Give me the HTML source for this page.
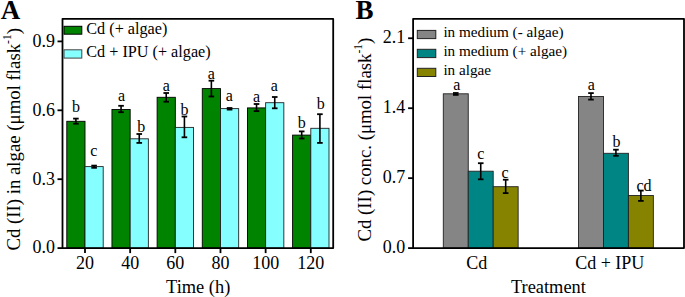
<!DOCTYPE html><html><head><meta charset="utf-8"><style>html,body{margin:0;padding:0;background:#fff;width:685px;height:297px;overflow:hidden}svg{display:block}text{font-family:"Liberation Serif",serif;fill:#000}</style></head><body>
<svg width="685" height="297" viewBox="0 0 685 297">
<rect x="66.80" y="121.30" width="18.20" height="126.80" fill="#008400" stroke="#000" stroke-width="0.9"/>
<rect x="85.00" y="166.60" width="18.20" height="81.50" fill="#85ffff" stroke="#222" stroke-width="0.9"/>
<rect x="111.96" y="109.50" width="18.20" height="138.60" fill="#008400" stroke="#000" stroke-width="0.9"/>
<rect x="130.16" y="138.80" width="18.20" height="109.30" fill="#85ffff" stroke="#222" stroke-width="0.9"/>
<rect x="157.12" y="97.30" width="18.20" height="150.80" fill="#008400" stroke="#000" stroke-width="0.9"/>
<rect x="175.32" y="127.40" width="18.20" height="120.70" fill="#85ffff" stroke="#222" stroke-width="0.9"/>
<rect x="202.28" y="88.60" width="18.20" height="159.50" fill="#008400" stroke="#000" stroke-width="0.9"/>
<rect x="220.48" y="108.60" width="18.20" height="139.50" fill="#85ffff" stroke="#222" stroke-width="0.9"/>
<rect x="247.44" y="107.90" width="18.20" height="140.20" fill="#008400" stroke="#000" stroke-width="0.9"/>
<rect x="265.64" y="102.70" width="18.20" height="145.40" fill="#85ffff" stroke="#222" stroke-width="0.9"/>
<rect x="292.60" y="135.10" width="18.20" height="113.00" fill="#008400" stroke="#000" stroke-width="0.9"/>
<rect x="310.80" y="128.30" width="18.20" height="119.80" fill="#85ffff" stroke="#222" stroke-width="0.9"/>
<line x1="75.90" y1="118.60" x2="75.90" y2="123.70" stroke="#000" stroke-width="1.6"/>
<line x1="73.10" y1="118.60" x2="78.70" y2="118.60" stroke="#000" stroke-width="1.8"/>
<line x1="73.10" y1="123.70" x2="78.70" y2="123.70" stroke="#000" stroke-width="1.8"/>
<line x1="94.10" y1="165.60" x2="94.10" y2="167.80" stroke="#000" stroke-width="1.6"/>
<line x1="91.30" y1="165.60" x2="96.90" y2="165.60" stroke="#000" stroke-width="1.8"/>
<line x1="91.30" y1="167.80" x2="96.90" y2="167.80" stroke="#000" stroke-width="1.8"/>
<text x="75.90" y="112.10" font-size="16" text-anchor="middle" >b</text>
<text x="93.70" y="155.50" font-size="16" text-anchor="middle" >c</text>
<line x1="121.06" y1="105.80" x2="121.06" y2="112.20" stroke="#000" stroke-width="1.6"/>
<line x1="118.26" y1="105.80" x2="123.86" y2="105.80" stroke="#000" stroke-width="1.8"/>
<line x1="118.26" y1="112.20" x2="123.86" y2="112.20" stroke="#000" stroke-width="1.8"/>
<line x1="139.26" y1="134.00" x2="139.26" y2="142.90" stroke="#000" stroke-width="1.6"/>
<line x1="136.46" y1="134.00" x2="142.06" y2="134.00" stroke="#000" stroke-width="1.8"/>
<line x1="136.46" y1="142.90" x2="142.06" y2="142.90" stroke="#000" stroke-width="1.8"/>
<text x="121.46" y="100.50" font-size="16" text-anchor="middle" >a</text>
<text x="141.16" y="131.90" font-size="16" text-anchor="middle" >b</text>
<line x1="166.22" y1="93.00" x2="166.22" y2="101.70" stroke="#000" stroke-width="1.6"/>
<line x1="163.42" y1="93.00" x2="169.02" y2="93.00" stroke="#000" stroke-width="1.8"/>
<line x1="163.42" y1="101.70" x2="169.02" y2="101.70" stroke="#000" stroke-width="1.8"/>
<line x1="184.42" y1="116.50" x2="184.42" y2="137.30" stroke="#000" stroke-width="1.6"/>
<line x1="181.62" y1="116.50" x2="187.22" y2="116.50" stroke="#000" stroke-width="1.8"/>
<line x1="181.62" y1="137.30" x2="187.22" y2="137.30" stroke="#000" stroke-width="1.8"/>
<text x="166.22" y="90.60" font-size="16" text-anchor="middle" >a</text>
<text x="184.42" y="115.20" font-size="16" text-anchor="middle" >b</text>
<line x1="211.38" y1="80.70" x2="211.38" y2="96.50" stroke="#000" stroke-width="1.6"/>
<line x1="208.58" y1="80.70" x2="214.18" y2="80.70" stroke="#000" stroke-width="1.8"/>
<line x1="208.58" y1="96.50" x2="214.18" y2="96.50" stroke="#000" stroke-width="1.8"/>
<line x1="229.58" y1="108.00" x2="229.58" y2="109.60" stroke="#000" stroke-width="1.6"/>
<line x1="226.78" y1="108.00" x2="232.38" y2="108.00" stroke="#000" stroke-width="1.8"/>
<line x1="226.78" y1="109.60" x2="232.38" y2="109.60" stroke="#000" stroke-width="1.8"/>
<text x="211.38" y="79.20" font-size="16" text-anchor="middle" >a</text>
<text x="229.18" y="100.70" font-size="16" text-anchor="middle" >a</text>
<line x1="256.54" y1="104.00" x2="256.54" y2="111.10" stroke="#000" stroke-width="1.6"/>
<line x1="253.74" y1="104.00" x2="259.34" y2="104.00" stroke="#000" stroke-width="1.8"/>
<line x1="253.74" y1="111.10" x2="259.34" y2="111.10" stroke="#000" stroke-width="1.8"/>
<line x1="274.74" y1="97.00" x2="274.74" y2="108.30" stroke="#000" stroke-width="1.6"/>
<line x1="271.94" y1="97.00" x2="277.54" y2="97.00" stroke="#000" stroke-width="1.8"/>
<line x1="271.94" y1="108.30" x2="277.54" y2="108.30" stroke="#000" stroke-width="1.8"/>
<text x="256.54" y="102.20" font-size="16" text-anchor="middle" >a</text>
<text x="274.34" y="90.60" font-size="16" text-anchor="middle" >a</text>
<line x1="301.70" y1="131.40" x2="301.70" y2="138.50" stroke="#000" stroke-width="1.6"/>
<line x1="298.90" y1="131.40" x2="304.50" y2="131.40" stroke="#000" stroke-width="1.8"/>
<line x1="298.90" y1="138.50" x2="304.50" y2="138.50" stroke="#000" stroke-width="1.8"/>
<line x1="319.90" y1="114.20" x2="319.90" y2="142.90" stroke="#000" stroke-width="1.6"/>
<line x1="317.10" y1="114.20" x2="322.70" y2="114.20" stroke="#000" stroke-width="1.8"/>
<line x1="317.10" y1="142.90" x2="322.70" y2="142.90" stroke="#000" stroke-width="1.8"/>
<text x="301.70" y="128.20" font-size="16" text-anchor="middle" >b</text>
<text x="320.70" y="108.70" font-size="16" text-anchor="middle" >b</text>
<rect x="62.5" y="18.8" width="270.7" height="229.29999999999998" fill="none" stroke="#000" stroke-width="1.8" stroke-linejoin="round"/>
<line x1="57.50" y1="248.10" x2="62.50" y2="248.10" stroke="#000" stroke-width="1.8"/>
<text x="55.00" y="253.40" font-size="18" text-anchor="end" >0.0</text>
<line x1="57.50" y1="179.20" x2="62.50" y2="179.20" stroke="#000" stroke-width="1.8"/>
<text x="55.00" y="184.50" font-size="18" text-anchor="end" >0.3</text>
<line x1="57.50" y1="110.30" x2="62.50" y2="110.30" stroke="#000" stroke-width="1.8"/>
<text x="55.00" y="115.60" font-size="18" text-anchor="end" >0.6</text>
<line x1="57.50" y1="41.40" x2="62.50" y2="41.40" stroke="#000" stroke-width="1.8"/>
<text x="55.00" y="46.70" font-size="18" text-anchor="end" >0.9</text>
<line x1="85.00" y1="248.10" x2="85.00" y2="253.10" stroke="#000" stroke-width="1.8"/>
<text x="85.00" y="269.20" font-size="18" text-anchor="middle" >20</text>
<line x1="130.16" y1="248.10" x2="130.16" y2="253.10" stroke="#000" stroke-width="1.8"/>
<text x="130.16" y="269.20" font-size="18" text-anchor="middle" >40</text>
<line x1="175.32" y1="248.10" x2="175.32" y2="253.10" stroke="#000" stroke-width="1.8"/>
<text x="175.32" y="269.20" font-size="18" text-anchor="middle" >60</text>
<line x1="220.48" y1="248.10" x2="220.48" y2="253.10" stroke="#000" stroke-width="1.8"/>
<text x="220.48" y="269.20" font-size="18" text-anchor="middle" >80</text>
<line x1="265.64" y1="248.10" x2="265.64" y2="253.10" stroke="#000" stroke-width="1.8"/>
<text x="265.64" y="269.20" font-size="18" text-anchor="middle" >100</text>
<line x1="310.80" y1="248.10" x2="310.80" y2="253.10" stroke="#000" stroke-width="1.8"/>
<text x="310.80" y="269.20" font-size="18" text-anchor="middle" >120</text>
<rect x="64.00" y="26.30" width="17.80" height="7.90" fill="#008400" stroke="#000" stroke-width="1"/>
<rect x="64.00" y="49.80" width="17.80" height="8.30" fill="#85ffff" stroke="#444" stroke-width="1"/>
<text x="86.30" y="34.40" font-size="16.2" text-anchor="start" >Cd (+ algae)</text>
<text x="86.30" y="57.30" font-size="16.2" text-anchor="start" >Cd + IPU (+ algae)</text>
<text x="198.20" y="292.50" font-size="18.4" text-anchor="middle" >Time (h)</text>
<text transform="translate(20.2,250.6) rotate(-90)" font-size="18.8">Cd (II) in algae (μmol flask<tspan font-size="11.5" dy="-9.5">-1</tspan><tspan dy="9.5">)</tspan></text>
<text x="0.80" y="18.50" font-size="27" text-anchor="start" font-weight="bold">A</text>
<rect x="443.30" y="93.80" width="24.95" height="154.30" fill="#858585" stroke="#222" stroke-width="0.9"/>
<rect x="468.25" y="171.20" width="24.95" height="76.90" fill="#008585" stroke="#222" stroke-width="0.9"/>
<rect x="493.20" y="186.70" width="24.95" height="61.40" fill="#858300" stroke="#222" stroke-width="0.9"/>
<rect x="578.50" y="96.50" width="24.95" height="151.60" fill="#858585" stroke="#222" stroke-width="0.9"/>
<rect x="603.45" y="153.30" width="24.95" height="94.80" fill="#008585" stroke="#222" stroke-width="0.9"/>
<rect x="628.40" y="195.50" width="24.95" height="52.60" fill="#858300" stroke="#222" stroke-width="0.9"/>
<line x1="455.78" y1="93.00" x2="455.78" y2="94.90" stroke="#000" stroke-width="1.6"/>
<line x1="452.98" y1="93.00" x2="458.58" y2="93.00" stroke="#000" stroke-width="1.8"/>
<line x1="452.98" y1="94.90" x2="458.58" y2="94.90" stroke="#000" stroke-width="1.8"/>
<text x="456.68" y="89.70" font-size="16" text-anchor="middle" >a</text>
<line x1="480.73" y1="163.20" x2="480.73" y2="179.30" stroke="#000" stroke-width="1.6"/>
<line x1="477.93" y1="163.20" x2="483.53" y2="163.20" stroke="#000" stroke-width="1.8"/>
<line x1="477.93" y1="179.30" x2="483.53" y2="179.30" stroke="#000" stroke-width="1.8"/>
<text x="480.73" y="159.30" font-size="16" text-anchor="middle" >c</text>
<line x1="505.68" y1="179.70" x2="505.68" y2="193.10" stroke="#000" stroke-width="1.6"/>
<line x1="502.88" y1="179.70" x2="508.48" y2="179.70" stroke="#000" stroke-width="1.8"/>
<line x1="502.88" y1="193.10" x2="508.48" y2="193.10" stroke="#000" stroke-width="1.8"/>
<text x="505.07" y="178.10" font-size="16" text-anchor="middle" >c</text>
<line x1="590.98" y1="93.10" x2="590.98" y2="99.60" stroke="#000" stroke-width="1.6"/>
<line x1="588.18" y1="93.10" x2="593.77" y2="93.10" stroke="#000" stroke-width="1.8"/>
<line x1="588.18" y1="99.60" x2="593.77" y2="99.60" stroke="#000" stroke-width="1.8"/>
<text x="591.18" y="90.30" font-size="16" text-anchor="middle" >a</text>
<line x1="615.93" y1="149.70" x2="615.93" y2="155.80" stroke="#000" stroke-width="1.6"/>
<line x1="613.13" y1="149.70" x2="618.73" y2="149.70" stroke="#000" stroke-width="1.8"/>
<line x1="613.13" y1="155.80" x2="618.73" y2="155.80" stroke="#000" stroke-width="1.8"/>
<text x="616.53" y="147.30" font-size="16" text-anchor="middle" >b</text>
<line x1="640.88" y1="190.60" x2="640.88" y2="200.90" stroke="#000" stroke-width="1.6"/>
<line x1="638.08" y1="190.60" x2="643.67" y2="190.60" stroke="#000" stroke-width="1.8"/>
<line x1="638.08" y1="200.90" x2="643.67" y2="200.90" stroke="#000" stroke-width="1.8"/>
<text x="644.08" y="190.70" font-size="16" text-anchor="middle" >cd</text>
<rect x="413.1" y="18.8" width="270.9" height="229.29999999999998" fill="none" stroke="#000" stroke-width="1.8" stroke-linejoin="round"/>
<line x1="408.10" y1="248.10" x2="413.10" y2="248.10" stroke="#000" stroke-width="1.8"/>
<text x="405.30" y="253.30" font-size="18" text-anchor="end" >0.0</text>
<line x1="408.10" y1="178.15" x2="413.10" y2="178.15" stroke="#000" stroke-width="1.8"/>
<text x="405.30" y="183.35" font-size="18" text-anchor="end" >0.7</text>
<line x1="408.10" y1="108.20" x2="413.10" y2="108.20" stroke="#000" stroke-width="1.8"/>
<text x="405.30" y="113.40" font-size="18" text-anchor="end" >1.4</text>
<line x1="408.10" y1="38.25" x2="413.10" y2="38.25" stroke="#000" stroke-width="1.8"/>
<text x="405.30" y="43.45" font-size="18" text-anchor="end" >2.1</text>
<text x="476.70" y="269.20" font-size="18" text-anchor="middle" >Cd</text>
<text x="609.80" y="269.20" font-size="18" text-anchor="middle" >Cd + IPU</text>
<rect x="417.30" y="30.40" width="18.50" height="8.20" fill="#858585" stroke="#222" stroke-width="1"/>
<rect x="417.30" y="49.30" width="18.50" height="8.30" fill="#008585" stroke="#222" stroke-width="1"/>
<rect x="417.30" y="68.30" width="18.50" height="8.20" fill="#858300" stroke="#222" stroke-width="1"/>
<text x="443.40" y="37.40" font-size="15.2" text-anchor="start" >in medium (- algae)</text>
<text x="443.40" y="56.40" font-size="15.2" text-anchor="start" >in medium (+ algae)</text>
<text x="443.40" y="75.40" font-size="15.2" text-anchor="start" >in algae</text>
<text x="548.40" y="292.50" font-size="18.4" text-anchor="middle" >Treatment</text>
<text transform="translate(371.2,241.5) rotate(-90)" font-size="18.8">Cd (II) conc. (μmol flask<tspan font-size="11.5" dy="-9.5">-1</tspan><tspan dy="9.5">)</tspan></text>
<text x="355.60" y="18.50" font-size="27" text-anchor="start" font-weight="bold">B</text>
</svg></body></html>
